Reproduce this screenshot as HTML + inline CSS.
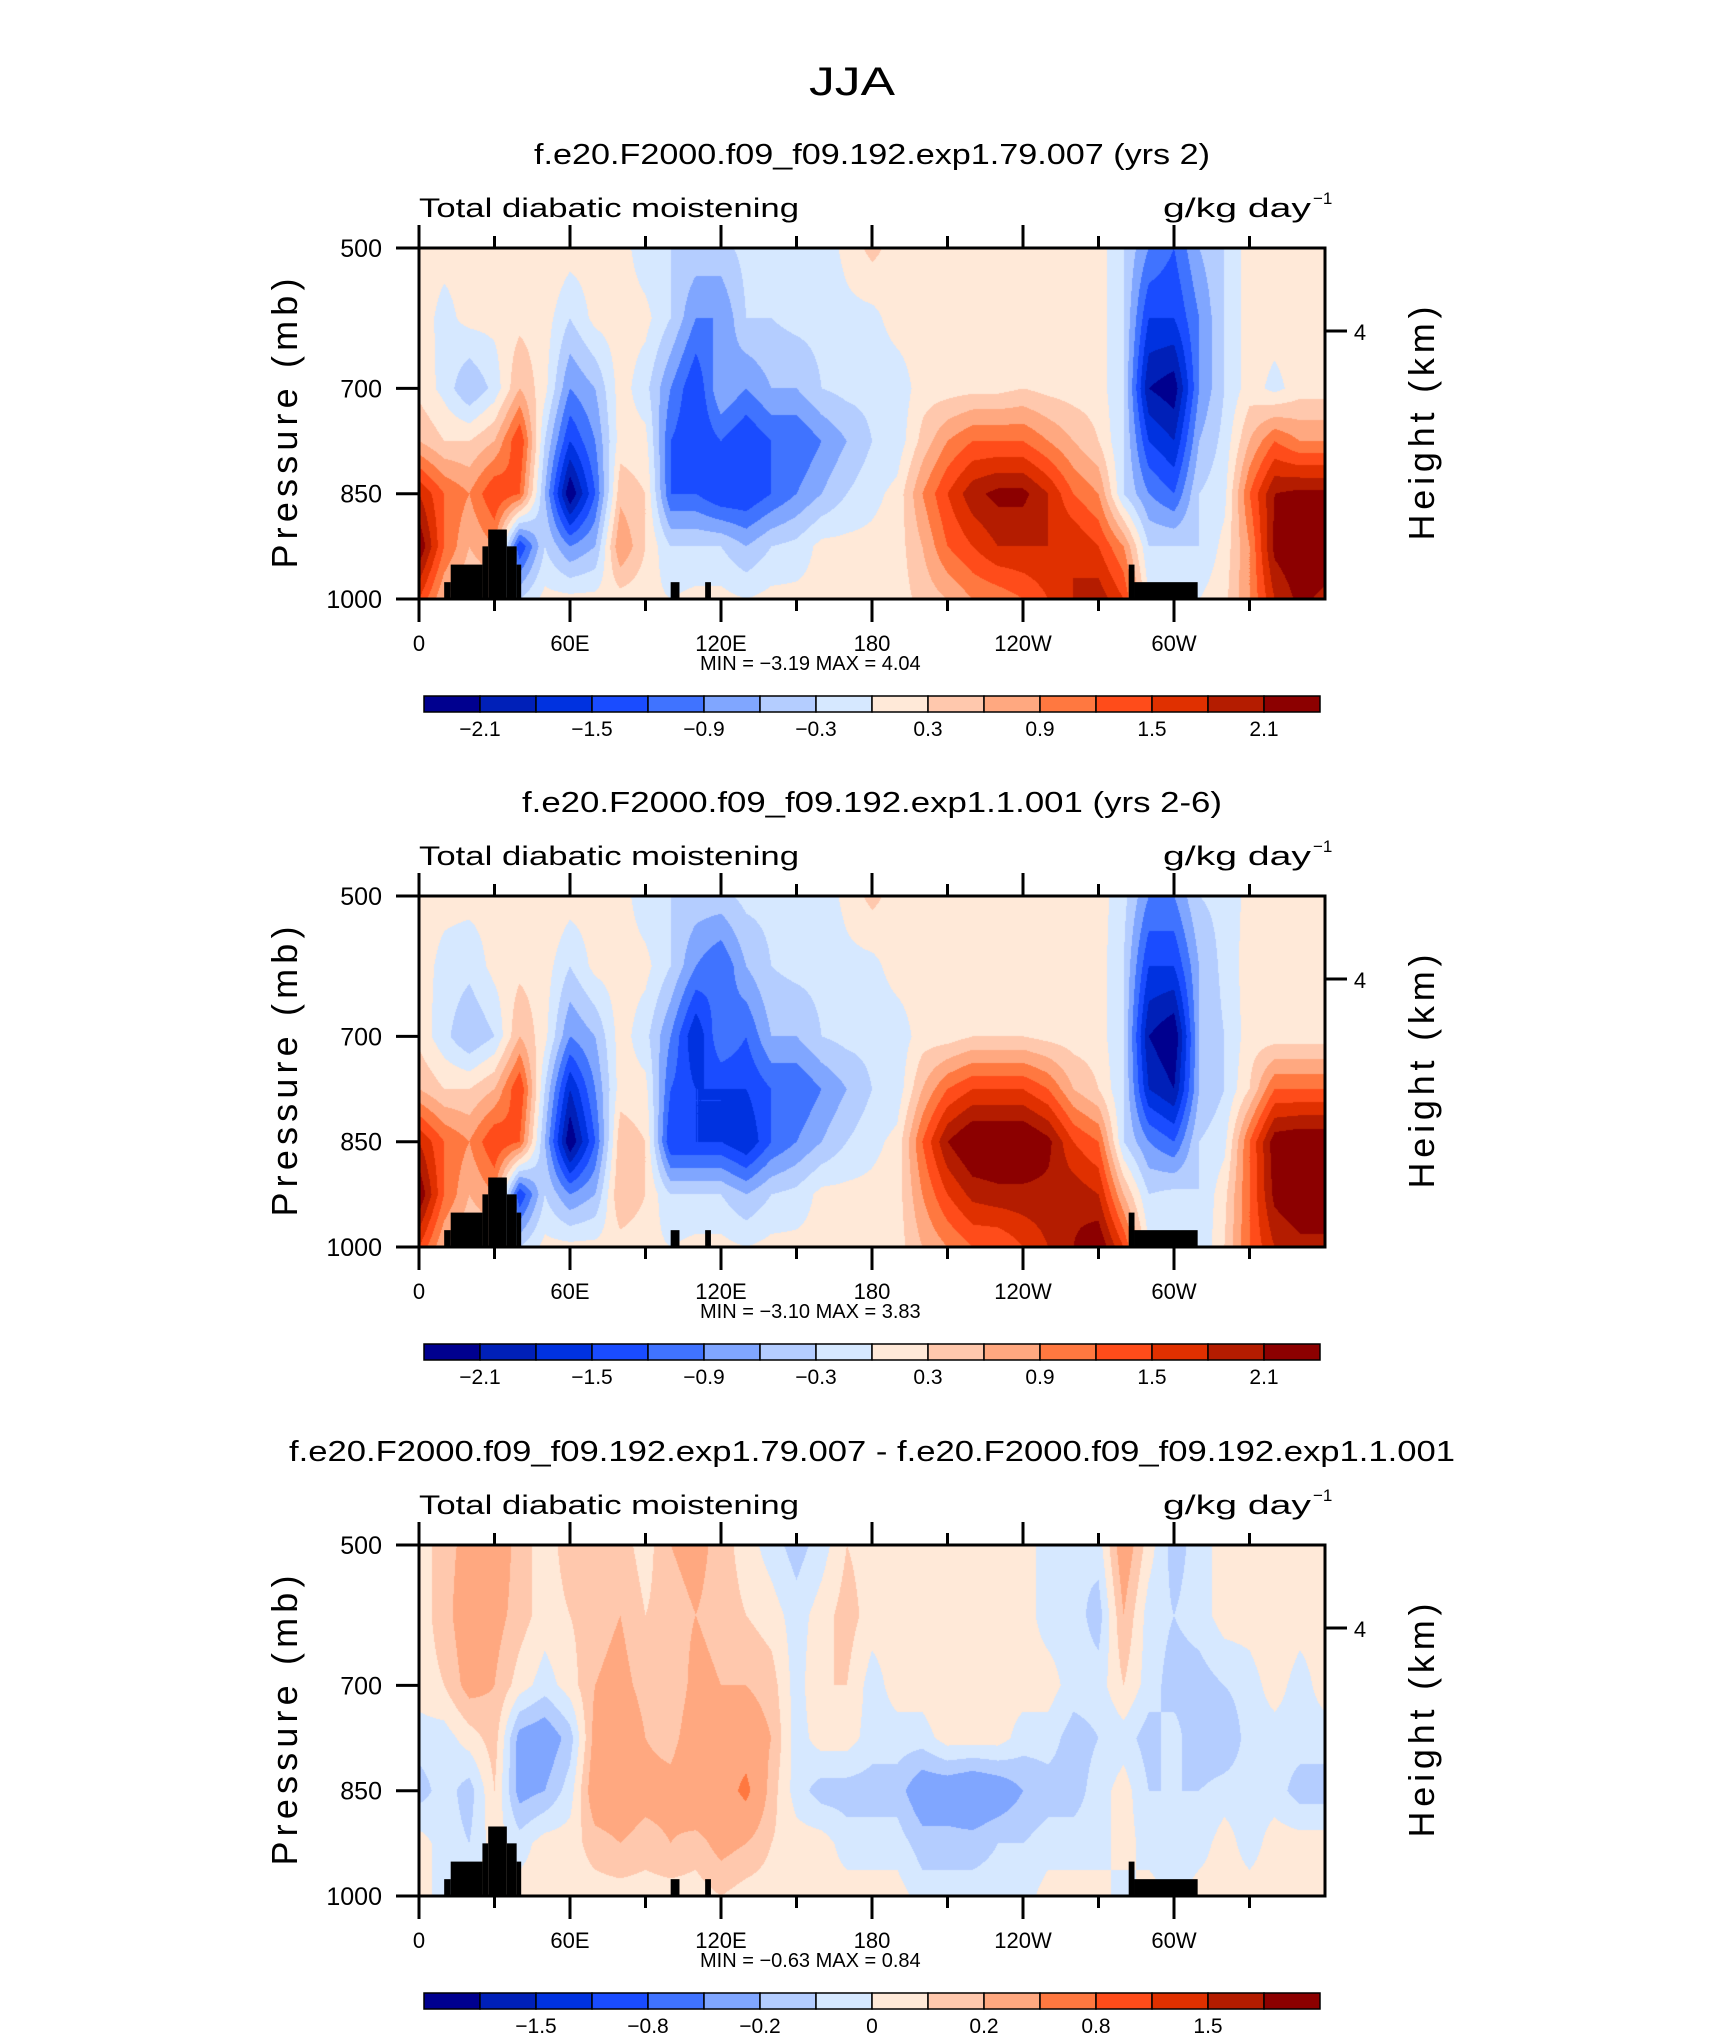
<!DOCTYPE html>
<html><head><meta charset="utf-8"><style>
html,body{margin:0;padding:0;background:#fff;}
#root{position:relative;width:1710px;height:2038px;overflow:hidden;background:#fff;font-family:"Liberation Sans",sans-serif;}
canvas{position:absolute;}
svg{position:absolute;left:0;top:0;}
</style></head><body>
<div id="root">
<canvas id="c0" width="906" height="351" style="left:419px;top:248px"></canvas>
<canvas id="c1" width="906" height="351" style="left:419px;top:896px"></canvas>
<canvas id="c2" width="906" height="351" style="left:419px;top:1545px"></canvas>
<svg id="s" width="1710" height="2038"></svg>
</div>
<script>
// ---- data ----
const lons = [0,10,20,30,40,50,60,70,80,90,100,110,120,130,140,150,160,170,180,190,200,210,220,230,240,250,260,270,280,290,300,310,320,330,340,350,360];
const plev = [500,600,700,775,850,925,1000];
const lonTickLabels = ["0","60E","120E","180","120W","60W"];
const pTickLabels = [500,700,850,1000];
const titles = ["f.e20.F2000.f09_f09.192.exp1.79.007 (yrs 2)","f.e20.F2000.f09_f09.192.exp1.1.001 (yrs 2-6)","f.e20.F2000.f09_f09.192.exp1.79.007 - f.e20.F2000.f09_f09.192.exp1.1.001"];
const minVals = ["-3.19","-3.10","-0.63"];
const maxVals = ["4.04","3.83","0.84"];
const levelsAbs = [-2.1,-1.8,-1.5,-1.2,-0.9,-0.6,-0.3,0,0.3,0.6,0.9,1.2,1.5,1.8,2.1];
const levelsDiff = [-2,-1.5,-1,-0.8,-0.4,-0.2,-0.1,0,0.1,0.2,0.4,0.8,1,1.5,2];
const cbLabelsAbs = ["−2.1","−1.5","−0.9","−0.3","0.3","0.9","1.5","2.1"];
const cbLabelsDiff = ["−1.5","−0.8","−0.2","0","0.2","0.8","1.5"];
const palette = ["#00008f","#0020b8","#0032e0","#1a4cff","#4073ff","#80a6ff","#b4cdff","#d6e8ff","#ffe9d8","#ffc8ad","#ffa880","#ff7840","#ff4c1a","#e03000","#b41c00","#8c0000"];
// topography: [lon0, lon1, top pressure]
const topoLon0 = [10,12.6,25.2,27.5,34.9,38.8,100,113.7,282,284.3];
const topoLon1 = [12.6,25.2,27.5,34.9,38.8,40.6,103.5,116,284.3,309.4];
const topoP = [976,951,925,901,925,951,976,976,951,976];

const field1 = [
[.15,.15,.2,.6,1.8,2.4,1.5],[.1,-.1,-.1,.3,1.2,1.2,.6],[.1,.1,-.6,.3,.9,.6,.3],[.1,.1,-.2,.6,1.5,.9,.3],
[.1,.2,.6,1.5,1.2,-1.5,-.3],[.3,.15,.1,-.3,-.6,-.3,.1],[.15,-.3,-.9,-1.5,-2.4,-.9,.1],[.15,.1,-.6,-.9,-1.2,-.6,.1],
[.15,.15,.15,.15,.5,.9,.15],[-.2,.1,-.2,.1,.3,.3,.1],[-.3,-.3,-.9,-1.2,-1.2,-.3,0],[-.4,-.9,-1.5,-1.5,-1.2,-.3,.1],
[-.4,-.9,-.6,-1.2,-1.5,-.3,.1],[-.2,-.3,-.9,-1.5,-1.5,-.6,0],[-.2,-.3,-.6,-1.2,-1.2,-.3,.1],[-.2,-.2,-.6,-1.2,-.9,-.2,.1],
[-.2,-.2,-.3,-.9,-.6,.1,.1],[.1,-.1,-.2,-.6,-.3,.1,.1],[.4,-.1,-.2,-.3,-.1,.1,.15],[.15,.15,-.2,-.2,.1,.15,.15],
[.15,.15,.15,.4,.9,.6,.4],[.15,.15,.15,.9,1.5,1.2,.6],[.15,.15,.2,1.2,2.0,1.5,.9],[.15,.15,.2,1.2,2.2,1.8,1.0],
[.15,.15,.3,1.2,2.2,1.8,1.2],[.15,.15,.2,.9,1.8,1.8,1.5],[.15,.15,.15,.6,1.2,1.8,1.8],[.15,.15,.15,.3,.9,1.5,2.0],
[-.3,-.3,-.3,-.3,-.3,.9,1.5],[-.9,-1.5,-2.1,-1.5,-.9,-.3,0],[-1.2,-1.5,-2.3,-1.8,-1.2,-.3,0],[-.6,-.9,-.9,-.6,-.3,-.3,0],
[-.3,-.3,-.3,-.2,-.1,.1,.2],[.15,.15,.15,.6,1.2,.9,.9],[.15,.15,-.1,1.2,2.1,2.2,1.8],[.15,.15,.15,.9,2.2,2.4,2.2],
[.15,.15,.15,.9,2.2,2.4,2.0]];
const field2 = [
[.15,.15,.2,.6,1.8,2.4,1.5],[.1,-.1,-.2,.3,1.2,1.2,.6],[.1,-.2,-.6,.3,.9,.6,.3],[.1,.1,-.3,.6,1.5,.9,.3],
[.1,.2,.6,1.5,1.2,-1.5,-.3],[.3,.15,.1,-.3,-.6,-.3,.1],[.15,-.3,-.9,-1.8,-2.4,-.9,.1],[.15,.1,-.6,-.9,-1.2,-.6,.1],
[.15,.15,.15,.15,.5,.6,.15],[-.2,.1,-.2,.1,.3,.3,.1],[-.3,-.3,-.9,-1.2,-1.5,-.3,0],[-.4,-.9,-1.8,-1.5,-1.5,-.3,.1],
[-.4,-1.2,-.9,-1.5,-1.5,-.3,.1],[-.2,-.6,-1.2,-1.5,-1.8,-.6,0],[-.2,-.3,-.6,-1.2,-1.2,-.3,.1],[-.2,-.2,-.6,-1.2,-.9,-.2,.1],
[-.2,-.2,-.3,-.9,-.6,.1,.1],[.1,-.1,-.2,-.6,-.3,.1,.1],[.4,-.1,-.2,-.3,-.1,.1,.15],[.15,.15,-.2,-.2,.1,.15,.15],
[.15,.15,.15,.6,1.2,.9,.6],[.15,.15,.15,1.2,2.1,1.5,.9],[.15,.15,.3,1.5,2.5,1.9,1.2],[.15,.15,.3,1.5,2.5,2.0,1.2],
[.15,.15,.3,1.5,2.5,2.0,1.5],[.15,.15,.2,1.2,2.2,2.0,1.8],[.15,.15,.15,.6,1.5,2.0,2.1],[.15,.15,.15,.3,1.2,1.8,2.4],
[-.2,-.3,-.3,-.3,-.3,.6,1.5],[-.9,-1.5,-2.1,-1.8,-.9,-.3,0],[-.9,-1.5,-2.4,-2.1,-1.2,-.2,0],[-.3,-.6,-.6,-.6,-.3,-.3,-.3],
[-.2,-.2,-.3,-.3,-.1,.2,.3],[.1,.15,.15,.3,1.2,1.2,1.2],[.15,.15,.15,1.2,2.3,2.2,1.8],[.15,.15,.15,1.2,2.4,2.4,2.0],
[.15,.15,.15,1.2,2.4,2.4,2.0]];
const field3 = [
[.05,.05,.05,-.05,-.15,.05,.05],[.15,.15,.1,-.05,-.05,-.05,-.05],[.25,.3,.25,.05,-.15,-.1,.05],[.3,.25,.2,.15,.1,.05,.05],
[.15,.15,.05,-.25,-.25,-.05,.05],[.05,.05,-.05,-.3,-.2,.05,.05],[.15,.1,.05,-.15,-.05,.05,.05],[.2,.15,.2,.25,.3,.15,.05],
[.15,.2,.25,.35,.3,.2,.05],[.05,.1,.15,.2,.25,.15,.05],[.2,.15,.1,.15,.25,.2,.05],[.25,.2,.25,.3,.35,.15,.05],
[.15,.15,.2,.3,.3,.25,.1],[.05,.1,.2,.3,.45,.2,.05],[-.05,.05,.15,.2,.15,.1,.05],[-.15,-.05,-.05,-.05,-.05,.05,.05],
[-.05,.05,.1,.05,-.15,.05,.05],[.1,.15,.1,.05,-.15,-.05,.05],[.05,.05,-.05,-.05,-.15,-.05,.05],[.1,.05,.05,-.05,-.15,-.05,.05],
[.05,.05,.05,-.05,-.3,-.15,-.05],[.05,.05,.1,.05,-.3,-.15,-.05],[.05,.05,.1,.05,-.35,-.15,-.05],[.05,.05,.05,.05,-.3,-.1,-.05],
[.05,.05,.05,-.05,-.2,-.1,-.05],[-.05,-.05,.05,-.05,-.15,-.05,.05],[-.1,-.05,-.05,-.15,-.15,-.05,.05],[-.05,-.15,-.05,-.1,-.05,-.05,.05],
[.3,.2,.1,-.05,.05,.05,-.05],[.05,-.05,-.05,-.15,-.1,-.05,.05],[-.15,-.1,-.15,-.05,-.1,-.05,-.05],[-.05,-.05,-.15,-.2,-.1,-.05,.05],
[.05,.05,-.1,-.2,-.05,.05,.05],[.05,.05,-.05,-.05,-.05,-.05,.05],[.05,.1,.05,-.05,-.05,.05,.05],[.05,.05,-.05,-.05,-.15,.05,.1],
[.05,.05,.05,-.05,-.15,.05,.05]];
const fields = [field1, field2, field3];

// ---- layout ----
const PL=419, PW=906, PH=351;
const panelTops=[248,896,1545];
const xOf = lon => PL + lon/360*PW;
const yOf = (top,p) => top + (p-500)/500*PH;
const NS="http://www.w3.org/2000/svg";
const svg=document.getElementById('s');
function mk(tag, attrs, text){const e=document.createElementNS(NS,tag);for(const k in attrs)e.setAttribute(k,attrs[k]);if(text!==undefined)e.textContent=text;svg.appendChild(e);return e;}

function binOf(v, lv){let b=0;for(let i=0;i<lv.length;i++){if(v>lv[i])b=i+1;}return b;}
function hex(c){return [parseInt(c.slice(1,3),16),parseInt(c.slice(3,5),16),parseInt(c.slice(5,7),16)];}
const rgb = palette.map(hex);

function sample(f, lon, p){
  let i=Math.min(Math.floor(lon/10),lons.length-2);
  const tx=(lon-lons[i])/(lons[i+1]-lons[i]);
  let j=0;while(j<plev.length-2 && p>plev[j+1])j++;
  const ty=(p-plev[j])/(plev[j+1]-plev[j]);
  const a=f[i][j],b=f[i+1][j],c=f[i][j+1],d=f[i+1][j+1];
  return (a*(1-tx)+b*tx)*(1-ty)+(c*(1-tx)+d*tx)*ty;
}
fields.forEach((f,k)=>{
  const cv=document.getElementById('c'+k);const ctx=cv.getContext('2d');
  const img=ctx.createImageData(PW,PH);const lv=k===2?levelsDiff:levelsAbs;
  for(let y=0;y<PH;y++){const p=500+(y+0.5)/PH*500;
    for(let x=0;x<PW;x++){const lon=(x+0.5)/PW*360;
      const c=rgb[binOf(sample(f,lon,p),lv)];const o=(y*PW+x)*4;
      img.data[o]=c[0];img.data[o+1]=c[1];img.data[o+2]=c[2];img.data[o+3]=255;}}
  ctx.putImageData(img,0,0);
});

// ---- overlay ----
mk('text',{x:852,y:95,'font-size':40,'text-anchor':'middle','font-weight':'300',fill:'#000',textLength:86,lengthAdjust:'spacingAndGlyphs'},'JJA');
const titleLens=[676,700,1166];
panelTops.forEach((top,k)=>{
  const off=top-248;
  mk('text',{x:872,y:164+off,'font-size':29,'text-anchor':'middle',fill:'#000',textLength:titleLens[k],lengthAdjust:'spacingAndGlyphs'},titles[k]);
  mk('text',{x:419,y:217+off,'font-size':27,fill:'#000',textLength:380,lengthAdjust:'spacingAndGlyphs'},'Total diabatic moistening');
  mk('text',{x:1163,y:217+off,'font-size':27,fill:'#000',textLength:148,lengthAdjust:'spacingAndGlyphs'},'g/kg day');
  mk('text',{x:1313,y:204+off,'font-size':17,fill:'#000',},'−1');
  for(let i=0;i<topoP.length;i++){
    mk('rect',{x:xOf(topoLon0[i]),y:yOf(top,topoP[i]),width:xOf(topoLon1[i])-xOf(topoLon0[i]),height:yOf(top,1000)-yOf(top,topoP[i]),fill:'#000',});
  }
  mk('rect',{x:PL,y:top,width:PW,height:PH,fill:'none',stroke:'#000','stroke-width':3,});
  for(let lon=0;lon<360;lon+=30){
    const maj=lon%60===0;const L=maj?23:12;const x=xOf(lon);
    mk('line',{x1:x,x2:x,y1:top,y2:top-L,stroke:'#000','stroke-width':3,});
    mk('line',{x1:x,x2:x,y1:top+PH,y2:top+PH+L,stroke:'#000','stroke-width':3,});
    if(maj) mk('text',{x:x,y:top+PH+52,'font-size':22,'text-anchor':'middle',fill:'#000',},lonTickLabels[lon/60]);
  }
  pTickLabels.forEach(p=>{const y=yOf(top,p);
    mk('line',{x1:PL,x2:PL-23,y1:y,y2:y,stroke:'#000','stroke-width':3,});
    mk('text',{x:382,y:y+9,'font-size':25,'text-anchor':'end',fill:'#000',},String(p));
  });
  const hy=top+83;
  mk('line',{x1:PL+PW,x2:PL+PW+22,y1:hy,y2:hy,stroke:'#000','stroke-width':3,});
  mk('text',{x:1360,y:hy+9,'font-size':22,'text-anchor':'middle',fill:'#000',},'4');
  const cy=top+PH/2;
  mk('text',{x:0,y:0,'font-size':36,'text-anchor':'middle',fill:'#000',transform:`translate(297,${cy}) rotate(-90)`,textLength:290,lengthAdjust:'spacing',},'Pressure (mb)');
  mk('text',{x:0,y:0,'font-size':36,'text-anchor':'middle',fill:'#000',transform:`translate(1434,${cy}) rotate(-90)`,textLength:234,lengthAdjust:'spacing',},'Height (km)');
  mk('text',{x:700,y:top+PH+71,'font-size':20,fill:'#000','xml:space':'preserve',},'MIN =   '+minVals[k].replace('-','−')+'   MAX =    '+maxVals[k]);
  const cbT=top+448, cbX=424, cbW=896, bw=cbW/16;
  palette.forEach((c,i)=>{mk('rect',{x:cbX+i*bw,y:cbT,width:bw,height:16,fill:c,stroke:'#000','stroke-width':1.5,});});
  const labs=k===2?cbLabelsDiff:cbLabelsAbs;
  labs.forEach((t,i)=>{const bIdx=k===2?2*(i+1):2*i+1;
    mk('text',{x:cbX+bIdx*bw,y:top+488,'font-size':21,'text-anchor':'middle',fill:'#000',},t);});
});
</script>
</body></html>
